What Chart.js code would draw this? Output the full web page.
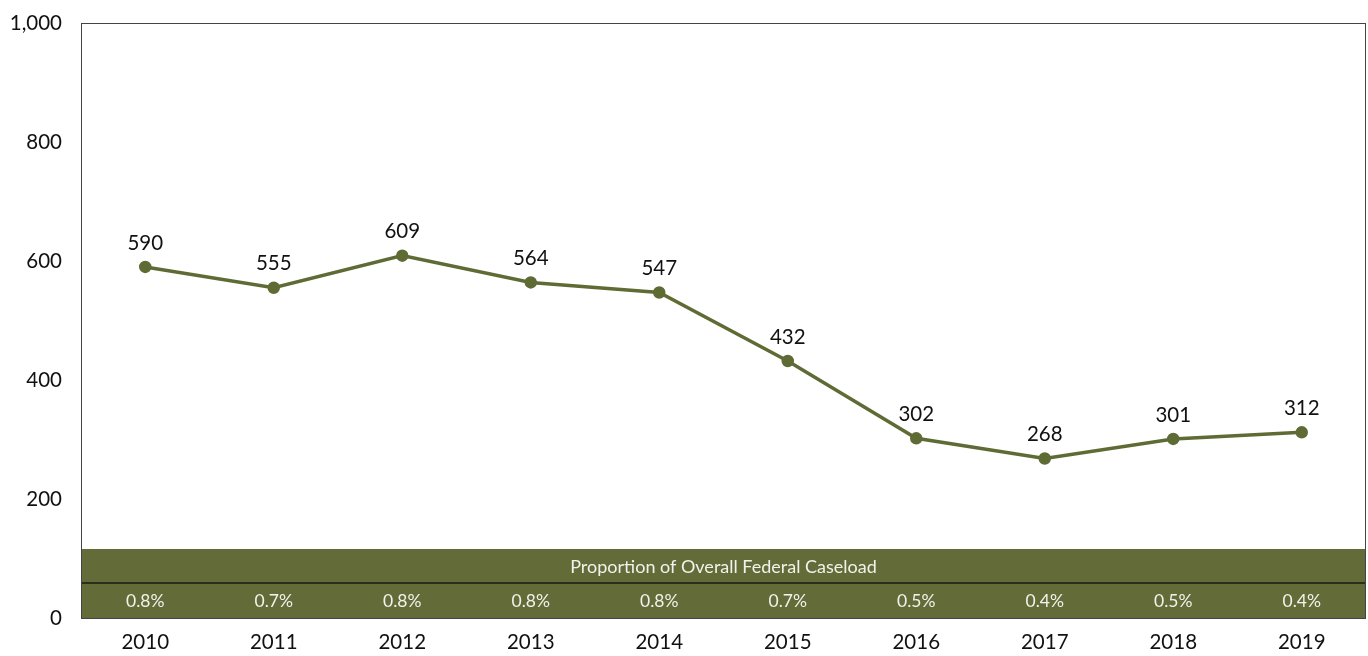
<!DOCTYPE html>
<html><head><meta charset="utf-8">
<script src="https://cdn.jsdelivr.net/npm/chart.js@4"></script>
<style>html,body{margin:0;padding:0;background:#fff}#wrap{width:1368px;height:656px}</style>
</head><body><div id="wrap"><canvas id="c" width="1368" height="656"></canvas></div>
<script>
const years = ['2010','2011','2012','2013','2014','2015','2016','2017','2018','2019'];
const cases = [590,555,609,564,547,432,302,268,301,312];
const proportions = ['0.8%','0.7%','0.8%','0.8%','0.8%','0.7%','0.5%','0.4%','0.5%','0.4%'];
const bandTitle = 'Proportion of Overall Federal Caseload';
const yTicks = [0,200,400,600,800,1000];

const FONT = 'Lato, "Open Sans", sans-serif';
const GREEN = '#5f6b34';
const BAND = '#636b39';

const overlay = {
  id:'overlay',
  beforeDatasetsDraw(chart){
    const {ctx, chartArea:a, scales:{x}} = chart;
    ctx.save();
    const bandTop = a.bottom - 69, sep = a.bottom - 35;
    ctx.fillStyle = BAND;
    ctx.fillRect(a.left, bandTop, a.right - a.left, a.bottom - bandTop);
    ctx.strokeStyle = '#1a1a10'; ctx.lineWidth = 1.5;
    ctx.beginPath(); ctx.moveTo(a.left, sep); ctx.lineTo(a.right, sep); ctx.stroke();
    ctx.fillStyle = '#f2f2ea';
    ctx.textAlign = 'center'; ctx.textBaseline = 'middle';
    ctx.font = '18px ' + FONT;
    ctx.fillText(bandTitle, (a.left + a.right)/2, (bandTop + sep)/2 + 1);
    ctx.font = '17.5px ' + FONT;
    proportions.forEach((p,i)=>{ ctx.fillText(p, x.getPixelForValue(i), (sep + a.bottom)/2 + 1); });
    ctx.strokeStyle = '#444'; ctx.lineWidth = 1;
    ctx.strokeRect(a.left + 0.5, a.top + 0.5, a.right - a.left - 1, a.bottom - a.top);
    ctx.restore();
  },
  afterDatasetsDraw(chart){
    const {ctx} = chart;
    const meta = chart.getDatasetMeta(0);
    ctx.save();
    ctx.fillStyle = '#111'; ctx.font = '20.5px ' + FONT;
    ctx.textAlign = 'center'; ctx.textBaseline = 'middle';
    meta.data.forEach((pt,i)=>{ ctx.fillText(String(cases[i]), pt.x, pt.y - 24); });
    ctx.restore();
  }
};

new Chart(document.getElementById('c'), {
  type:'line',
  data:{ labels: years, datasets:[{ data: cases, borderColor: GREEN, backgroundColor: GREEN,
    borderWidth: 3.5, pointRadius: 4.5, pointHoverRadius: 4.5, tension: 0 }] },
  options:{
    responsive:false, animation:false, devicePixelRatio:1,
    layout:{ autoPadding:false, padding:{ left:0, right:2, top:23, bottom:0 } },
    plugins:{ legend:{display:false}, tooltip:{enabled:false} },
    scales:{
      x:{ offset:true, grid:{display:false, drawTicks:false}, border:{display:false},
          ticks:{ color:'#111', font:{family:FONT, size:20.5}, padding:12, maxRotation:0 },
          afterFit(s){ s.height = 38; s.paddingLeft = 0; s.paddingRight = 0; } },
      y:{ min:0, max:1000, grid:{display:false, drawTicks:false}, border:{display:false},
          afterBuildTicks(s){ s.ticks = yTicks.map(v=>({value:v})); },
          ticks:{ color:'#111', font:{family:FONT, size:20.5}, padding:19,
                  callback:v=>v.toLocaleString('en-US') },
          afterFit(s){ s.width = 81; s.paddingTop = 0; s.paddingBottom = 0; } }
    }
  },
  plugins:[overlay]
});
</script></body></html>
